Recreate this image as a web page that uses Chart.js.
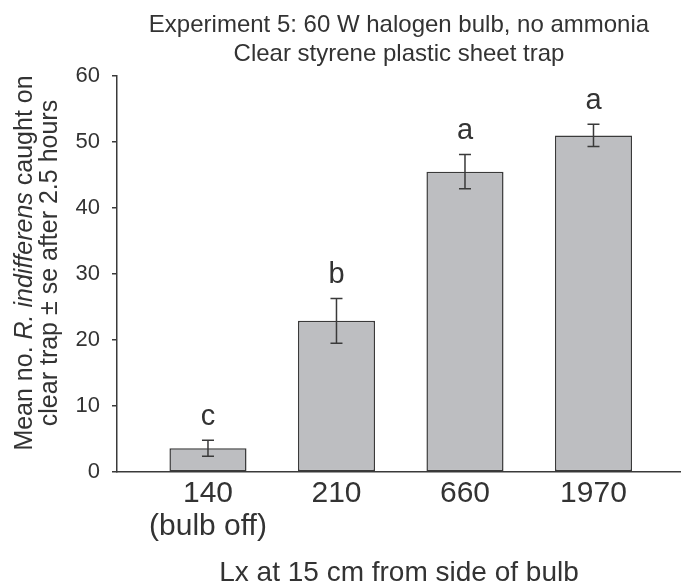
<!DOCTYPE html>
<html>
<head>
<meta charset="utf-8">
<script src="https://cdn.jsdelivr.net/npm/chart.js@4/dist/chart.umd.min.js"></script>
<style>
  html, body { margin: 0; padding: 0; background: #ffffff; }
  #wrap { width: 681px; height: 581px; }
</style>
</head>
<body>
<div id="wrap"><canvas id="c" width="681" height="581"></canvas></div>
<script>
// ---- Data ----
const categories = [['140', '(bulb off)'], '210', '660', '1970'];
const meanCaught = [3.6, 22.9, 45.5, 51.0];
const seCaught = [1.2, 3.4, 2.6, 1.7];
const sigLetters = ['c', 'b', 'a', 'a'];
const yTicks = [0, 10, 20, 30, 40, 50, 60];
const titleLines = ['Experiment 5: 60 W halogen bulb, no ammonia', 'Clear styrene plastic sheet trap'];
const xTitle = 'Lx at 15 cm from side of bulb';
const yTitleLines = [
  [['Mean no. ', false], ['R. indifferens', true], [' caught on', false]],
  [['clear trap \u00b1 se after 2.5 hours', false]]
];

const TEXT = '#333333';
const AXIS = '#3a3a3a';
const FONT = "'Liberation Sans', Arial, sans-serif";

const points = meanCaught.map((v, i) => ({ x: i, y: v }));

const overlayPlugin = {
  id: 'overlay',
  afterDatasetsDraw(chart) {
    const ctx = chart.ctx;
    const xs = chart.scales.x, ys = chart.scales.y;
    ctx.save();
    // error bars
    ctx.strokeStyle = AXIS;
    ctx.lineWidth = 1.5;
    meanCaught.forEach((m, i) => {
      const px = xs.getPixelForValue(i);
      const top = ys.getPixelForValue(m + seCaught[i]);
      const bot = ys.getPixelForValue(m - seCaught[i]);
      ctx.beginPath();
      ctx.moveTo(px, top); ctx.lineTo(px, bot);
      ctx.moveTo(px - 6, top); ctx.lineTo(px + 6, top);
      ctx.moveTo(px - 6, bot); ctx.lineTo(px + 6, bot);
      ctx.stroke();
    });
    // significance letters
    ctx.fillStyle = TEXT;
    ctx.font = '29px ' + FONT;
    ctx.textAlign = 'center';
    ctx.textBaseline = 'alphabetic';
    sigLetters.forEach((l, i) => {
      const px = xs.getPixelForValue(i);
      const top = ys.getPixelForValue(meanCaught[i] + seCaught[i]);
      ctx.fillText(l, px, top - 15.5);
    });
    ctx.restore();
  },
  afterDraw(chart) {
    // rotated y-axis title with italic species name
    const ctx = chart.ctx;
    const baselines = [32, 57];
    const cy = 263;
    ctx.save();
    ctx.fillStyle = TEXT;
    ctx.textBaseline = 'alphabetic';
    ctx.textAlign = 'left';
    yTitleLines.forEach((segs, li) => {
      let total = 0;
      segs.forEach(([t, it]) => {
        ctx.font = (it ? 'italic ' : '') + '25px ' + FONT;
        total += ctx.measureText(t).width;
      });
      ctx.save();
      ctx.translate(baselines[li], cy);
      ctx.rotate(-Math.PI / 2);
      let x = -total / 2;
      segs.forEach(([t, it]) => {
        ctx.font = (it ? 'italic ' : '') + '25px ' + FONT;
        ctx.fillText(t, x, 0);
        x += ctx.measureText(t).width;
      });
      ctx.restore();
    });
    ctx.restore();
  }
};

new Chart(document.getElementById('c'), {
  type: 'bar',
  data: {
    datasets: [{
      data: points,
      backgroundColor: '#bdbec1',
      borderColor: AXIS,
      borderWidth: 1.5,
      borderSkipped: false,
      categoryPercentage: 1,
      barPercentage: 0.6
    }]
  },
  plugins: [overlayPlugin],
  options: {
    responsive: false,
    animation: false,
    events: [],
    layout: { padding: { left: 0, right: 0, top: 0, bottom: 0 } },
    plugins: {
      legend: { display: false },
      tooltip: { enabled: false },
      title: {
        display: true,
        fullSize: false,
        text: titleLines,
        color: TEXT,
        font: { family: FONT, size: 24, weight: 'normal', lineHeight: 1.2 },
        padding: { top: 11, bottom: 7.4 }
      }
    },
    scales: {
      x: {
        type: 'linear',
        offset: false,
        min: -0.708,
        max: 3.681,
        afterBuildTicks(scale) { scale.ticks = categories.map((c, i) => ({ value: i })); },
        afterFit(scale) { scale.height = 109; },
        grid: { display: false },
        border: { display: true, color: AXIS, width: 1.5 },
        ticks: {
          autoSkip: false,
          maxRotation: 0,
          padding: -3,
          color: TEXT,
          font: { family: FONT, size: 30, lineHeight: 1.1 },
          callback: (v) => categories[v]
        },
        title: {
          display: true,
          text: xTitle,
          color: TEXT,
          font: { family: FONT, size: 28, lineHeight: 1.0 },
          padding: { top: -6, bottom: -6 }
        }
      },
      y: {
        min: 0,
        max: 60,
        afterBuildTicks(scale) { scale.ticks = yTicks.map(v => ({ value: v })); },
        afterFit(scale) { scale.width = 117; },
        grid: { drawOnChartArea: false, drawTicks: true, tickLength: 5, color: AXIS, lineWidth: 1.5 },
        border: { display: true, color: AXIS, width: 1.5 },
        ticks: {
          padding: 12,
          color: TEXT,
          font: { family: FONT, size: 22 }
        }
      }
    }
  }
});
</script>
</body>
</html>
